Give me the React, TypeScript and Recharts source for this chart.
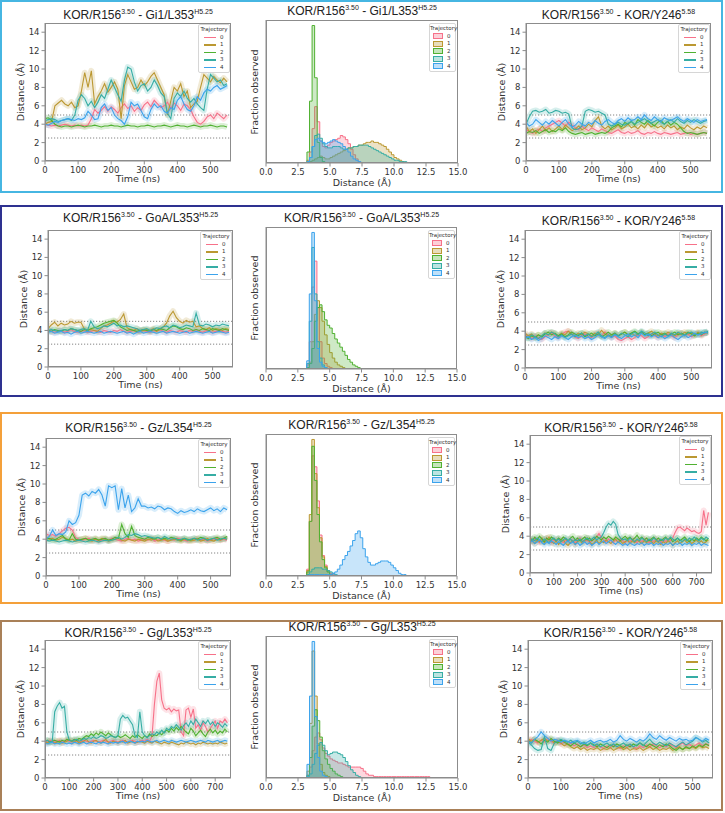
import React from "react";
import { LineChart, Line, AreaChart, Area, XAxis, YAxis, ReferenceLine } from "recharts";

// trajectory colours (husl, 5 colours)
const COLORS = ["#f77189", "#bb9832", "#50b131", "#36ada4", "#3ba3ec"];
const TRAJ = ["0", "1", "2", "3", "4"];

const TIME_550 = [
  0, 10, 20, 30, 40, 50, 60, 70, 80, 90, 100, 110, 120, 130, 140, 150, 160, 170, 180, 190,
  200, 210, 220, 230, 240, 250, 260, 270, 280, 290, 300, 310, 320, 330, 340, 350, 360, 370, 380, 390,
  400, 410, 420, 430, 440, 450, 460, 470, 480, 490, 500, 510, 520, 530, 540, 550,
];
const TIME_750 = [
  0, 10, 20, 30, 40, 50, 60, 70, 80, 90, 100, 110, 120, 130, 140, 150, 160, 170, 180, 190,
  200, 210, 220, 230, 240, 250, 260, 270, 280, 290, 300, 310, 320, 330, 340, 350, 360, 370, 380, 390,
  400, 410, 420, 430, 440, 450, 460, 470, 480, 490, 500, 510, 520, 530, 540, 550, 560, 570, 580, 590,
  600, 610, 620, 630, 640, 650, 660, 670, 680, 690, 700, 710, 720, 730, 740, 750,
];
const TICKS_550 = [0, 100, 200, 300, 400, 500];
const TICKS_750 = [0, 100, 200, 300, 400, 500, 600, 700];
const DIST_TICKS = [0, 2, 4, 6, 8, 10, 12, 14];
const HIST_TICKS = [0, 2.5, 5, 7.5, 10, 12.5, 15];
// left edges of the histogram bins (Å)
const BIN_EDGES = [
  2.8, 3.0, 3.2, 3.4, 3.6, 3.8, 4.0, 4.2, 4.4, 4.6, 4.8, 5.0, 5.2, 5.4, 5.6, 5.8, 6.0, 6.2, 6.4, 6.6,
  6.8, 7.0, 7.2, 7.4, 7.6, 7.8, 8.0, 8.2, 8.4, 8.6, 8.8, 9.0, 9.2, 9.4, 9.6, 9.8, 10.0, 10.2, 10.4, 10.6,
  10.8, 11.0, 11.2, 11.4, 11.6, 11.8, 12.0, 12.2, 12.4, 12.6, 12.8, 13.0,
];

// ---- row 1: Gi1 ----
const GI1_DIST = [
  [4.0,3.9,3.8,3.9,3.8,3.9,4.0,3.9,3.8,3.9, 3.8,3.9,3.8,3.9,4.6,5.6,5.2,5.5,5.9,5.4, 5.9,5.6,5.2,5.8,6.2,5.7,6.0,5.4,5.8,5.5, 6.1,6.4,5.9,6.6,6.2,5.8,6.0,6.4,5.7,6.3, 6.0,5.5,6.2,6.0,5.6,4.8,4.2,4.0,4.3,4.8, 5.0,4.6,5.2,4.9,4.6,5.0],
  [4.0,4.2,4.3,6.0,6.3,6.6,6.2,6.0,6.4,5.8, 6.0,7.6,9.6,8.0,9.8,6.2,7.0,7.6,8.4,7.5, 8.0,8.6,7.8,4.6,8.2,9.4,8.6,7.8,8.0,8.8, 8.2,8.6,9.2,9.6,8.8,8.0,7.2,5.0,6.5,8.0, 7.6,8.4,7.0,7.6,5.8,6.2,6.5,8.0,9.4,9.0, 8.6,9.2,8.8,8.5,9.0,8.6],
  [4.6,4.7,4.4,4.0,3.8,3.7,3.8,3.8,3.7,3.8, 3.9,3.8,3.7,3.8,3.8,3.9,3.8,3.7,3.8,3.8, 3.9,3.8,3.8,3.7,3.8,3.9,3.8,3.8,3.7,3.8, 3.8,3.9,3.8,3.7,3.8,3.8,3.9,3.8,3.7,3.8, 3.9,3.8,3.8,3.7,3.8,3.9,3.8,3.7,3.8,3.8, 3.9,3.8,3.7,3.8,3.8,3.7],
  [4.4,4.5,4.6,4.5,4.3,4.4,4.5,4.6,4.4,5.0, 6.6,7.2,6.8,6.0,6.5,5.8,6.4,7.2,6.8,7.8, 8.8,8.0,7.2,6.5,8.8,10.2,10.0,8.6,7.6,8.2, 8.4,7.6,8.0,8.8,8.2,7.4,7.0,5.2,4.6,6.8, 7.4,7.0,7.6,6.8,6.4,6.8,6.2,5.8,5.5,7.8, 9.4,9.0,8.6,8.8,8.2,8.4],
  [4.0,3.9,4.1,4.3,4.2,4.4,4.5,4.6,4.5,4.4, 4.6,4.5,4.7,5.4,5.0,4.5,4.6,5.8,6.2,5.5, 5.8,5.0,4.6,4.4,4.0,4.8,6.4,6.0,6.2,5.5, 4.8,4.6,5.6,6.2,5.8,6.0,5.4,5.2,5.8,5.6, 6.6,7.0,6.2,5.6,5.4,6.0,7.0,6.6,7.4,7.8, 7.6,8.0,8.2,7.8,8.0,8.2],
];
const GI1_HIST = [
  [0,0,2,8,25,41,30,16,12,11, 13,15,16,17,18,20,19,17,14,10, 6,3,1,0,0,0,0,0,0,0, 0,0,0,0,0,0,0,0,0,0, 0,0,0,0,0,0,0,0,0,0, 0,0],
  [0,0,0,1,2,3,4,5,4,3, 3,4,5,6,7,8,9,10,11,11, 12,12,13,13,14,15,15,16,15,15, 14,13,12,10,8,6,4,3,2,1, 0,0,0,0,0,0,0,0,0,0, 0,0],
  [0,0,8,45,100,62,15,4,1,0, 0,0,0,0,0,0,0,0,0,0, 0,0,0,0,0,0,0,0,0,0, 0,0,0,0,0,0,0,0,0,0, 0,0,0,0,0,0,0,0,0,0, 0,0],
  [0,0,1,4,12,20,21,18,14,12, 11,11,12,12,12,11,10,10,11,11, 12,12,13,13,13,13,12,11,10,9, 8,7,6,5,4,3,2,2,1,1, 1,0,0,0,0,0,0,0,0,0, 0,0],
  [0,0,1,4,12,17,18,16,15,14, 15,16,17,16,15,14,12,10,8,5, 3,2,1,0,0,0,0,0,0,0, 0,0,0,0,0,0,0,0,0,0, 0,0,0,0,0,0,0,0,0,0, 0,0],
];
const GI1_KOR = [
  [3.4,3.2,3.0,3.3,3.5,3.2,3.6,3.8,4.0,4.2, 4.4,4.1,3.8,4.2,3.9,3.6,3.4,3.8,3.5,3.3, 3.6,3.4,3.2,3.5,3.3,3.1,3.0,3.2,3.4,3.1, 3.0,3.2,3.0,3.1,3.3,3.0,2.9,3.1,3.0,3.2, 3.0,2.9,3.1,3.0,2.9,3.0,3.1,2.9,3.0,3.1, 2.9,3.0,2.9,3.0,3.1,3.0],
  [3.8,3.2,3.5,3.0,3.4,3.8,3.3,3.6,3.2,3.5, 3.8,3.4,3.9,3.6,3.3,3.5,3.8,3.4,3.6,4.0, 3.7,4.4,4.8,3.8,3.5,3.8,3.4,3.6,3.9,3.5, 3.7,4.0,3.6,3.8,3.5,3.9,3.6,4.1,3.7,3.9, 3.6,3.8,3.5,3.9,3.6,3.8,3.4,3.7,3.5,3.9, 3.6,3.4,3.7,3.5,3.8,3.6],
  [3.0,3.2,3.1,3.3,3.0,3.2,3.4,3.1,3.3,3.2, 3.5,3.3,3.6,3.2,3.0,2.9,3.0,3.1,2.9,3.0, 3.1,2.9,3.0,3.1,3.0,3.2,3.6,3.8,4.0,3.7, 4.2,4.0,4.3,3.9,4.5,4.2,4.0,4.4,4.1,3.8, 4.2,4.4,4.0,4.3,3.9,4.2,4.0,3.6,3.2,3.0, 3.1,3.0,2.9,3.0,3.1,3.0],
  [4.0,4.8,5.4,5.5,5.3,5.4,5.6,5.2,5.3,5.5, 5.4,5.2,5.3,5.1,3.6,3.4,3.5,3.8,5.4,5.6, 5.5,5.3,5.4,5.2,5.0,4.0,3.8,4.0,4.2,4.0, 3.9,4.1,4.3,4.0,4.2,4.4,4.6,4.3,4.1,4.3, 4.5,4.2,4.0,4.3,4.5,4.2,4.6,4.3,4.1,4.4, 4.2,4.5,4.3,4.1,4.3,4.4],
  [4.2,3.8,4.0,4.5,4.2,3.9,4.3,4.0,4.4,4.1, 3.8,4.2,4.5,4.0,3.7,3.9,4.3,4.0,3.8,4.2, 4.0,4.4,4.1,3.9,4.3,4.5,4.2,4.0,4.4,4.6, 4.3,4.7,4.4,4.5,4.8,4.5,5.0,4.6,4.4,4.8, 4.5,4.3,4.7,4.5,4.4,4.6,4.8,4.5,4.3,4.6, 4.4,4.2,4.5,4.3,4.4,4.5],
];

// ---- row 2: GoA ----
const GOA_DIST = [
  [4.0,3.9,3.8,3.9,4.0,3.8,3.9,4.1,3.9,3.8, 3.9,4.0,3.8,3.9,4.0,3.9,3.8,4.0,3.9,3.8, 4.0,3.9,4.1,3.9,3.8,3.9,4.0,3.8,3.9,4.0, 3.9,3.8,4.0,3.9,4.1,3.9,3.8,4.0,3.9,3.8, 4.0,3.9,3.8,4.0,3.9,4.1,3.9,3.8,4.0,3.9, 3.8,3.9,4.0,3.9,3.8,3.9],
  [4.2,4.6,4.9,4.5,4.8,4.6,4.7,5.0,4.8,4.9, 4.9,4.2,4.0,4.1,4.0,3.9,4.2,4.5,4.6,4.8, 5.0,4.9,5.2,5.8,4.3,4.1,4.0,4.2,3.9,4.0, 4.1,4.0,4.2,3.9,4.1,4.4,4.8,5.6,6.1,5.4, 5.0,4.8,5.1,4.9,5.0,4.4,4.5,4.2,4.1,4.3, 4.0,4.2,4.1,4.0,4.2,4.1],
  [4.0,3.9,4.1,4.0,3.9,4.1,4.0,4.2,4.1,4.0, 3.9,4.1,4.0,4.2,4.3,4.4,4.6,4.8,4.9,5.0, 5.1,4.8,4.4,4.2,4.0,4.1,4.0,3.9,4.0,4.1, 4.0,3.9,4.1,4.0,4.2,4.1,4.0,4.3,4.5,4.4, 4.2,4.1,4.3,4.2,4.0,4.1,4.0,4.2,4.1,4.0, 4.2,4.1,4.0,4.2,4.1,4.0],
  [4.0,4.1,4.0,3.9,4.0,4.1,4.0,4.2,4.1,4.0, 4.1,4.2,4.0,5.0,4.4,4.2,4.3,4.5,4.4,4.6, 4.8,4.5,4.6,4.4,4.5,4.4,4.3,4.2,4.0,4.1, 4.2,4.0,4.1,4.3,4.2,4.4,4.5,4.3,4.6,4.5, 4.3,4.4,4.6,4.5,4.4,5.9,4.6,4.5,4.7,4.6, 4.4,4.6,4.5,4.7,4.6,4.5],
  [3.8,3.9,3.7,3.8,3.9,3.7,3.8,3.6,3.8,3.9, 3.7,3.8,3.9,3.8,3.7,3.8,3.9,3.7,3.8,3.9, 3.8,3.7,3.8,3.9,3.7,3.8,3.6,3.8,3.9,3.7, 3.8,3.9,3.8,3.7,3.8,3.9,3.7,3.8,3.9,3.8, 3.7,3.8,3.9,3.7,3.8,3.9,3.8,3.7,3.8,3.9, 3.7,3.8,3.9,3.8,3.7,3.8],
];
const GOA_HIST = [
  [0,0,3,20,60,79,45,20,8,4, 2,1,0,0,0,0,0,0,0,0, 0,0,0,0,0,0,0,0,0,0, 0,0,0,0,0,0,0,0,0,0, 0,0,0,0,0,0,0,0,0,0, 0,0],
  [0,0,1,5,20,40,50,45,35,25, 18,12,8,5,3,2,1,0,0,0, 0,0,0,0,0,0,0,0,0,0, 0,0,0,0,0,0,0,0,0,0, 0,0,0,0,0,0,0,0,0,0, 0,0],
  [0,0,1,4,15,35,45,47,42,36, 32,30,26,22,19,16,13,10,7,5, 3,2,1,0,0,0,0,0,0,0, 0,0,0,0,0,0,0,0,0,0, 0,0,0,0,0,0,0,0,0,0, 0,0],
  [0,0,4,35,89,55,20,8,3,1, 0,0,0,0,0,0,0,0,0,0, 0,0,0,0,0,0,0,0,0,0, 0,0,0,0,0,0,0,0,0,0, 0,0,0,0,0,0,0,0,0,0, 0,0],
  [0,0,6,55,100,50,15,5,2,1, 0,0,0,0,0,0,0,0,0,0, 0,0,0,0,0,0,0,0,0,0, 0,0,0,0,0,0,0,0,0,0, 0,0,0,0,0,0,0,0,0,0, 0,0],
];
const GOA_KOR = [
  [3.6,3.4,3.2,3.5,3.3,3.1,3.4,3.6,3.8,3.5, 3.3,3.6,3.9,4.0,3.7,3.4,3.2,3.5,3.7,3.4, 3.3,3.6,3.8,3.5,3.9,3.6,3.3,3.5,3.1,3.0, 3.2,3.4,3.1,3.3,3.6,3.5,3.2,3.4,3.7,3.5, 3.3,3.6,3.4,3.7,3.5,3.3,3.6,3.8,3.5,3.7, 3.4,3.6,3.8,3.5,3.7,3.9],
  [3.8,3.5,3.7,3.3,3.6,3.4,3.8,3.6,3.9,3.7, 3.5,3.8,3.6,4.0,3.7,3.5,3.8,3.6,3.9,3.7, 3.5,3.8,3.6,4.1,3.7,3.5,3.6,3.8,3.5,3.7, 3.9,3.6,3.8,3.5,3.7,3.9,3.6,3.8,4.0,3.7, 3.5,3.8,3.6,3.9,3.7,3.5,3.8,3.6,3.9,3.7, 3.8,3.6,3.9,3.7,3.8,3.9],
  [3.4,3.2,3.5,3.3,3.6,3.4,3.7,3.9,3.6,3.8, 3.5,3.7,3.4,3.6,3.9,3.7,3.5,3.8,3.4,3.6, 3.8,3.5,3.7,3.4,3.6,3.9,3.6,3.8,3.5,3.7, 3.9,3.6,3.8,4.0,3.7,3.9,3.6,3.8,3.5,3.7, 3.9,3.6,3.8,3.5,3.7,3.9,3.6,3.8,3.6,3.9, 3.7,3.5,3.8,3.6,3.9,3.8],
  [3.5,3.3,3.6,3.4,3.2,3.5,3.8,3.6,3.9,3.7, 3.4,3.6,3.3,3.5,3.7,3.4,3.6,3.8,3.5,3.7, 3.4,3.6,3.9,3.5,3.3,3.6,3.4,3.7,3.5,3.8, 3.6,3.4,3.7,3.9,3.6,4.0,3.8,3.5,3.7,3.9, 3.6,3.4,3.7,3.5,3.8,3.6,3.9,3.7,3.5,3.8, 3.9,3.7,3.6,3.9,3.8,4.0],
  [3.2,3.4,3.1,3.3,3.0,3.2,3.5,3.3,3.1,3.4, 3.2,3.5,3.3,3.1,3.4,3.6,3.3,3.5,3.2,3.4, 3.1,3.3,3.6,3.4,3.2,3.5,3.3,3.6,3.4,3.2, 3.5,3.7,3.4,3.6,3.3,3.8,3.5,3.7,3.4,3.6, 3.3,3.5,3.2,3.4,3.6,3.3,3.1,3.4,3.6,3.3, 3.5,3.8,3.6,3.7,3.9,3.8],
];

// ---- row 3: Gz ----
const GZ_DIST = [
  [4.6,4.4,4.5,4.3,4.6,4.9,5.2,5.3,5.0,4.2, 4.0,3.9,4.0,4.1,3.9,4.0,3.8,3.9,4.0,3.9, 4.1,4.0,3.9,3.8,4.0,4.1,3.9,4.0,3.8,3.9, 4.0,3.9,4.1,3.8,3.9,4.0,3.9,3.8,4.0,3.9, 4.1,4.0,3.9,3.8,4.0,3.9,4.1,3.9,4.0,3.8, 3.9,4.0,4.1,3.9,4.0,3.9],
  [4.2,4.0,4.1,3.9,4.0,4.2,4.1,3.9,4.0,3.8, 3.9,4.0,4.1,3.9,3.8,4.0,3.9,4.1,4.0,3.8, 3.9,4.0,4.1,3.9,3.8,4.0,3.9,3.8,4.0,3.9, 3.8,4.0,3.9,4.1,3.8,3.9,4.0,3.8,3.9,4.0, 3.9,3.8,4.0,3.9,3.8,3.9,4.0,3.8,3.9,4.1, 3.9,3.8,4.0,3.9,4.1,4.0],
  [4.0,4.1,3.9,4.0,4.2,4.4,4.0,3.9,4.6,4.0, 3.9,4.0,4.1,3.9,4.0,4.1,3.9,4.0,4.1,3.9, 4.0,4.2,4.1,5.6,4.6,4.2,5.4,4.4,4.2,4.1, 4.0,4.2,4.1,4.0,4.2,4.0,4.1,4.0,4.2,4.1, 4.0,3.9,4.1,4.0,3.9,4.1,4.0,4.2,4.1,3.9, 4.0,4.1,4.2,4.0,4.1,4.3],
  [3.9,3.8,3.9,3.8,3.7,3.8,3.9,3.8,3.7,3.8, 3.9,3.8,3.7,3.8,3.9,3.8,3.7,3.8,3.9,3.8, 3.9,4.0,4.2,4.0,4.2,4.5,4.4,4.6,4.5,4.3, 4.4,4.3,4.2,4.1,4.2,4.0,4.3,4.1,4.0,4.1, 3.9,4.0,4.1,3.9,4.0,4.1,3.9,4.0,4.1,3.9, 4.0,4.1,3.9,4.0,4.1,4.0],
  [4.0,4.3,5.0,4.4,4.6,4.5,4.8,6.0,5.6,5.8, 6.6,8.8,9.0,8.7,9.2,9.0,9.4,8.8,7.6,9.8, 9.6,9.8,7.2,9.5,7.4,8.8,7.0,7.4,8.4,7.6, 7.6,7.4,7.5,7.3,7.6,7.5,7.2,7.4,7.3,7.0, 6.8,7.1,6.9,7.0,7.2,7.0,7.3,7.1,7.0,7.2, 7.4,7.1,7.3,7.0,7.4,7.2],
];
const GZ_HIST = [
  [0,0,5,40,88,80,55,30,15,8, 4,2,1,0,0,0,0,0,0,0, 0,0,0,0,0,0,0,0,0,0, 0,0,0,0,0,0,0,0,0,0, 0,0,0,0,0,0,0,0,0,0, 0,0],
  [0,0,4,45,100,75,50,28,14,7, 3,1,0,0,0,0,0,0,0,0, 0,0,0,0,0,0,0,0,0,0, 0,0,0,0,0,0,0,0,0,0, 0,0,0,0,0,0,0,0,0,0, 0,0],
  [0,0,3,40,95,70,45,25,12,6, 3,1,0,0,0,0,0,0,0,0, 0,0,0,0,0,0,0,0,0,0, 0,0,0,0,0,0,0,0,0,0, 0,0,0,0,0,0,0,0,0,0, 0,0],
  [0,0,1,3,5,6,6,6,5,5, 4,3,2,1,0,0,0,0,0,0, 0,0,0,0,0,0,0,0,0,0, 0,0,0,0,0,0,0,0,0,0, 0,0,0,0,0,0,0,0,0,0, 0,0],
  [0,0,0,1,1,1,1,1,1,1, 1,1,2,3,5,8,12,15,18,22, 26,31,33,28,20,14,10,8,8,9, 10,11,11,11,10,8,6,4,2,1, 1,0,0,0,0,0,0,0,0,0, 0,0],
];
const GZ_KOR = [
  [3.6,3.4,3.7,3.5,3.3,3.6,3.4,3.8,3.5,3.3, 3.6,3.4,3.7,3.5,3.3,3.6,3.4,3.7,3.5,3.3, 3.6,3.8,3.5,3.4,3.6,3.3,3.5,3.7,3.9,4.3, 3.8,3.6,3.4,3.7,3.5,3.3,3.6,3.4,3.7,3.5, 3.3,3.6,3.4,3.7,3.5,3.3,3.6,3.4,3.7,3.5, 3.3,3.6,3.4,3.7,3.5,3.3,3.6,3.4,3.7,3.5, 3.8,4.4,4.9,5.0,4.8,4.6,4.9,4.7,4.5,4.6, 4.4,4.3,4.5,6.8,5.2,6.6],
  [3.9,3.5,3.2,3.6,3.4,3.8,3.3,3.5,3.9,3.4, 3.2,3.5,3.1,3.4,3.6,3.2,3.0,3.3,3.5,3.1, 3.4,3.6,3.2,3.5,3.8,3.4,3.1,3.3,3.6,3.2, 3.5,3.3,3.6,3.4,3.2,3.5,3.7,3.3,3.5,3.2, 3.4,3.6,3.2,3.5,3.3,3.6,3.4,3.2,3.5,3.3, 3.6,3.4,3.2,3.5,3.3,3.1,3.4,3.2,3.5,3.3, 3.0,3.3,3.5,3.2,3.4,3.6,3.3,3.5,3.2,3.4, 3.6,3.3,3.5,3.2,3.4,3.6],
  [3.8,3.5,3.9,3.6,4.0,3.7,3.4,3.8,3.6,3.9, 3.7,3.5,3.8,3.6,3.9,3.7,3.5,3.8,4.0,3.6, 3.8,3.5,3.7,3.9,3.6,3.8,3.5,3.7,4.0,3.8, 3.6,3.9,3.7,4.0,3.8,3.6,3.9,3.7,3.5,3.8, 4.0,3.7,3.9,3.6,3.8,4.1,3.7,3.9,3.6,3.8, 3.5,3.7,3.9,3.6,3.8,3.5,3.7,3.9,3.6,3.8, 3.4,3.6,3.8,3.5,3.7,3.9,3.6,3.4,3.7,3.5, 3.8,3.6,3.9,3.7,3.5,3.8],
  [3.4,3.7,3.5,3.8,3.6,3.4,3.7,3.5,3.3,3.6, 3.8,3.5,3.7,3.4,3.6,3.8,3.5,3.7,3.4,3.6, 3.5,3.7,3.4,3.6,3.8,3.5,3.7,3.9,3.6,3.8, 3.9,4.4,5.0,5.4,5.2,5.6,5.3,4.2,3.8,3.6, 3.7,3.5,3.8,3.6,3.4,3.7,3.5,3.8,3.6,3.4, 3.7,3.5,3.8,3.6,3.4,3.7,3.5,3.8,3.6,3.9, 3.7,3.5,3.8,3.6,3.4,3.7,3.5,3.8,3.6,3.9, 3.7,3.5,3.8,3.6,3.9,3.7],
  [3.3,3.5,3.2,3.4,3.6,3.3,3.1,3.4,3.2,3.5, 3.3,3.1,3.4,3.2,3.0,3.3,3.5,3.2,3.4,3.1, 3.3,3.0,3.2,3.4,3.1,3.3,3.0,3.2,3.4,3.1, 3.3,3.5,3.2,3.4,3.6,3.3,3.1,3.4,3.2,3.0, 3.2,3.0,3.3,3.1,3.0,3.2,3.1,3.3,3.0,3.2, 3.1,3.3,3.0,3.2,3.1,3.3,3.0,3.2,3.1,3.3, 3.0,3.2,3.1,3.3,3.0,3.2,3.1,3.3,3.0,3.2, 3.1,3.3,3.0,3.2,3.1,3.0],
];

// ---- row 4: Gg ----
const GG_DIST = [
  [4.0,3.9,4.1,4.0,3.9,4.0,4.1,3.9,4.0,4.1, 4.0,3.9,4.1,4.0,3.9,4.0,4.1,4.0,3.9,4.0, 4.1,4.0,3.9,4.0,4.1,4.0,3.9,4.0,4.1,4.0, 3.9,4.0,4.1,4.0,3.9,4.0,4.1,4.0,3.9,4.0, 4.1,4.0,4.2,4.0,4.5,8.0,10.5,11.4,8.5,7.6, 7.4,7.6,7.2,7.5,7.3,7.4,5.0,4.6,7.4,7.6, 6.6,7.5,5.4,5.8,5.2,6.0,5.6,5.0,5.4,5.8, 6.2,5.4,6.2,6.0,6.4,6.0],
  [3.9,3.8,4.0,3.9,3.8,3.9,4.0,3.8,3.9,4.0, 4.2,4.0,3.9,4.1,3.8,3.9,4.0,4.2,3.9,3.8, 4.0,4.1,3.9,3.8,4.0,4.2,3.9,3.8,4.0,3.9, 3.8,4.0,3.9,4.1,3.8,3.9,4.0,3.8,3.9,4.0, 3.9,3.8,4.0,3.9,3.8,4.0,3.9,3.8,3.7,3.9, 3.8,3.7,3.9,3.8,3.7,3.6,3.8,3.7,3.9,3.8, 3.7,3.8,3.6,3.8,3.7,3.9,3.8,3.7,3.8,3.7, 3.8,3.7,3.9,3.8,3.7,3.8],
  [4.0,4.1,3.9,4.0,4.1,4.0,3.9,4.1,4.0,4.2, 4.1,4.0,4.2,4.1,4.3,4.2,4.4,4.6,4.5,4.8, 4.6,4.9,4.7,5.0,4.8,4.6,4.9,4.7,4.5,4.4, 4.6,4.4,4.5,4.7,4.5,4.3,4.6,4.4,4.7,4.5, 4.3,4.6,4.4,4.8,4.5,4.7,4.6,4.9,4.7,5.0, 5.2,5.0,5.4,5.1,5.5,5.2,5.6,5.3,5.0,4.8, 5.4,5.1,4.6,4.9,5.2,4.8,4.5,5.0,5.3,4.9, 5.2,4.8,5.1,4.9,5.3,5.0],
  [4.0,4.1,3.9,4.0,7.2,7.8,8.2,7.6,7.8,5.0, 4.1,4.0,4.1,4.2,4.0,4.1,4.3,4.2,4.4,4.3, 4.5,4.3,4.4,4.6,4.5,4.3,4.4,4.6,4.5,4.4, 4.6,6.4,6.8,6.5,6.6,6.2,5.8,4.6,4.4,7.2, 5.0,4.6,4.4,4.6,4.8,4.7,5.0,4.8,5.2,4.9, 5.4,5.2,5.6,5.4,5.8,5.5,5.2,5.7,6.0,5.6, 6.2,5.8,6.4,6.0,5.6,6.2,5.9,6.3,5.8,6.1, 5.6,6.0,5.8,5.5,5.9,5.6],
  [3.8,3.7,3.8,3.9,3.7,3.8,3.7,3.9,3.8,3.7, 3.8,3.7,3.9,3.8,3.7,3.8,3.9,3.7,3.8,3.9, 3.8,3.7,3.9,3.8,3.9,3.8,3.7,3.9,3.8,3.9, 3.8,3.9,4.0,3.8,3.9,4.0,3.9,3.8,4.0,3.9, 4.0,3.9,4.1,4.0,3.9,4.0,4.1,3.9,4.0,4.1, 4.0,3.9,4.1,4.0,3.9,4.0,4.1,4.0,3.9,4.0, 4.1,4.0,3.9,4.0,4.1,4.0,3.9,4.1,4.0,3.9, 4.0,4.1,3.9,4.0,4.1,4.0],
];
const GG_HIST = [
  [0,0,2,8,20,30,33,28,22,18, 16,14,13,12,11,11,10,9,8,8, 8,8,8,7,5,3,2,2,1,1, 1,1,1,1,1,1,1,1,1,1, 1,1,1,1,1,1,1,1,1,1, 0,0],
  [0,0,5,40,93,60,25,10,4,2, 1,0,0,0,0,0,0,0,0,0, 0,0,0,0,0,0,0,0,0,0, 0,0,0,0,0,0,0,0,0,0, 0,0,0,0,0,0,0,0,0,0, 0,0],
  [0,0,2,15,38,50,42,30,20,14, 10,7,5,3,2,1,0,0,0,0, 0,0,0,0,0,0,0,0,0,0, 0,0,0,0,0,0,0,0,0,0, 0,0,0,0,0,0,0,0,0,0, 0,0],
  [0,0,1,3,10,18,24,26,24,20, 17,18,19,19,18,17,15,12,9,6, 4,2,1,0,0,0,0,0,0,0, 0,0,0,0,0,0,0,0,0,0, 0,0,0,0,0,0,0,0,0,0, 0,0],
  [0,0,10,60,100,45,15,5,2,1, 0,0,0,0,0,0,0,0,0,0, 0,0,0,0,0,0,0,0,0,0, 0,0,0,0,0,0,0,0,0,0, 0,0,0,0,0,0,0,0,0,0, 0,0],
];
const GG_KOR = [
  [3.9,4.2,4.0,3.8,4.1,3.9,4.3,4.0,3.8,4.1, 3.7,3.9,3.6,3.8,3.5,3.7,3.4,3.6,3.3,3.5, 3.3,3.6,3.4,3.2,3.5,3.3,3.6,3.4,3.2,3.5, 3.3,3.6,3.4,3.2,3.5,3.3,3.6,3.4,3.7,3.5, 3.3,3.6,3.4,3.7,3.5,3.3,3.6,3.8,3.5,3.7, 3.4,3.6,3.8,3.5,3.7,3.6],
  [4.3,4.0,4.2,3.9,4.1,4.3,4.0,4.2,3.8,4.0, 3.8,3.5,3.7,3.4,3.2,3.4,3.1,3.3,3.0,3.2, 3.1,3.3,3.0,3.2,3.1,3.3,3.0,3.2,3.4,3.1, 3.3,3.0,3.2,3.1,3.3,3.0,3.2,3.4,3.1,3.3, 3.0,3.2,3.1,3.3,3.0,3.2,3.4,3.1,3.3,3.2, 3.4,3.2,3.5,3.3,3.4,3.2],
  [4.1,3.8,4.2,4.0,3.7,4.1,3.9,4.3,4.0,3.8, 4.1,3.9,3.7,3.5,3.8,3.6,3.4,3.7,3.5,3.8, 3.6,3.4,3.7,3.5,3.3,3.6,3.4,3.7,3.5,3.3, 3.6,3.4,3.7,3.5,3.8,3.6,3.4,3.7,3.5,3.3, 3.6,3.4,3.7,3.5,3.2,3.0,3.3,3.1,3.4,3.2, 3.5,3.3,3.6,3.4,3.7,3.5],
  [3.9,3.6,3.2,3.0,3.1,4.5,3.2,3.0,3.8,4.0, 4.2,4.0,3.9,4.1,3.8,4.0,3.7,3.9,3.6,3.8, 3.5,3.7,3.4,3.6,3.8,3.5,3.7,3.4,3.6,3.8, 3.5,3.7,3.4,3.6,3.8,3.5,3.9,4.2,3.8,3.6, 3.9,3.7,3.5,3.8,3.6,3.4,3.7,3.9,3.6,3.8, 4.0,4.4,4.2,3.9,4.1,3.8],
  [4.0,3.8,4.2,4.5,5.0,4.6,4.3,4.0,4.2,4.1, 3.9,4.1,4.0,3.8,4.0,4.1,3.9,3.7,3.9,4.1, 3.8,4.0,4.1,3.9,4.0,4.2,3.9,4.1,4.6,4.2, 4.0,4.3,4.1,3.9,4.2,4.0,4.3,4.8,4.4,4.2, 4.6,4.3,4.1,4.4,4.2,4.0,4.3,4.1,4.2,4.0, 4.1,4.4,4.2,4.0,4.3,4.1],
];

const SPINE = "#8c8c8c";
const TICK_FONT = { fontSize: 8.5, fill: "#333", fontFamily: "DejaVu Sans" };
const LABEL_FONT = "DejaVu Sans";

type Box = { x0: number; x1: number; top: number; bottom: number };

function PanelTitle({ cx, cy, partner }: { cx: number; cy: number; partner: [string, string] }) {
  return (
    <div
      style={{
        position: "absolute", left: cx - 120, width: 240, top: cy - 7, textAlign: "center",
        fontFamily: "Liberation Sans, Arial, sans-serif", fontSize: 12, lineHeight: "14px",
        color: "#222", whiteSpace: "nowrap",
      }}
    >
      KOR/R156<span style={{ fontSize: 7, position: "relative", top: -5 }}>3.50</span> - {partner[0]}
      <span style={{ fontSize: 7, position: "relative", top: -5 }}>{partner[1]}</span>
    </div>
  );
}

function TrajLegend({ right, top, hist }: { right: number; top: number; hist?: boolean }) {
  const w = hist ? 27 : 32;
  return (
    <div
      style={{
        position: "absolute", left: right - w, top, width: w - 2, paddingTop: 1, paddingBottom: 1,
        border: "1px solid #d6d6d6", borderRadius: 2, background: "rgba(255,255,255,0.85)",
        fontFamily: LABEL_FONT, fontSize: 5.5, lineHeight: "7.5px", color: "#333",
      }}
    >
      <div style={{ textAlign: "center" }}>Trajectory</div>
      {TRAJ.map((name, k) => (
        <div key={name} style={{ display: "flex", alignItems: "center", paddingLeft: hist ? 3 : 5, height: 7.5 }}>
          {hist ? (
            <span style={{ width: 8, height: 4, border: `1px solid ${COLORS[k]}`, background: COLORS[k] + "55" }} />
          ) : (
            <span style={{ width: 12, height: 1.5, background: COLORS[k] }} />
          )}
          <span style={{ marginLeft: 4 }}>{name}</span>
        </div>
      ))}
    </div>
  );
}

function Frame({ box }: { box: Box }) {
  return (
    <div
      style={{
        position: "absolute", left: box.x0, top: box.top, width: box.x1 - box.x0,
        height: box.bottom - box.top, border: `1px solid ${SPINE}`, boxSizing: "border-box",
        pointerEvents: "none",
      }}
    />
  );
}

function YLabel({ x, y, text }: { x: number; y: number; text: string }) {
  return (
    <div
      style={{
        position: "absolute", left: x - 60, top: y - 6, width: 120, textAlign: "center",
        transform: "rotate(-90deg)", fontFamily: LABEL_FONT, fontSize: 9.5, lineHeight: "12px", color: "#333",
      }}
    >
      {text}
    </div>
  );
}

function XLabel({ x, y, text }: { x: number; y: number; text: string }) {
  return (
    <div
      style={{
        position: "absolute", left: x - 60, top: y - 6, width: 120, textAlign: "center",
        fontFamily: LABEL_FONT, fontSize: 9.5, lineHeight: "12px", color: "#333",
      }}
    >
      {text}
    </div>
  );
}

const AXW = 40;
const MT = 4;
const MR = 6;
const HMR = 14;
const XH = 22;

function TimePanel({
  box, times, series, tMax, ticks, partner, titleY,
}: {
  box: Box; times: number[]; series: number[][]; tMax: number; ticks: number[]; partner: [string, string]; titleY: number;
}) {
  const data = times.map((t, i) => {
    const row: Record<string, number> = { t };
    series.forEach((s, k) => {
      row["s" + k] = s[i];
    });
    return row;
  });
  const w = AXW + (box.x1 - box.x0) + MR;
  const h = MT + (box.bottom - box.top) + XH;
  const cx = (box.x0 + box.x1) / 2;
  return (
    <>
      <div style={{ position: "absolute", left: box.x0 - AXW, top: box.top - MT }}>
        <LineChart width={w} height={h} data={data} margin={{ top: MT, right: MR, left: 0, bottom: 0 }}>
          <XAxis
            type="number" dataKey="t" domain={[0, tMax]} ticks={ticks} allowDataOverflow height={XH}
            tick={TICK_FONT} tickSize={3.5} tickLine={{ stroke: SPINE }} axisLine={{ stroke: SPINE }} interval={0}
          />
          <YAxis
            type="number" domain={[0, 15]} ticks={DIST_TICKS} allowDataOverflow width={AXW}
            tick={TICK_FONT} tickSize={3.5} tickLine={{ stroke: SPINE }} axisLine={{ stroke: SPINE }} interval={0}
          />
          <ReferenceLine y={5} stroke="#777" strokeWidth={0.9} strokeDasharray="1.2 1.8" />
          <ReferenceLine y={2.5} stroke="#777" strokeWidth={0.9} strokeDasharray="1.2 1.8" />
          {series.map((_, k) => (
            <Line
              key={"band" + k} dataKey={"s" + k} type="linear" stroke={COLORS[k]} strokeWidth={6}
              strokeOpacity={0.2} strokeLinejoin="round" dot={false} activeDot={false} isAnimationActive={false}
            />
          ))}
          {series.map((_, k) => (
            <Line
              key={"line" + k} dataKey={"s" + k} type="linear" stroke={COLORS[k]} strokeWidth={1.1}
              dot={false} activeDot={false} isAnimationActive={false}
            />
          ))}
        </LineChart>
      </div>
      <Frame box={box} />
      <PanelTitle cx={cx} cy={titleY} partner={partner} />
      <YLabel x={box.x0 - 24} y={(box.top + box.bottom) / 2} text="Distance (Å)" />
      <XLabel x={cx} y={box.bottom + 18} text="Time (ns)" />
      <TrajLegend right={box.x1 - 1} top={box.top + 1} />
    </>
  );
}

const HAXW = 14;

function HistPanel({
  box, series, partner, titleY,
}: {
  box: Box; series: number[][]; partner: [string, string]; titleY: number;
}) {
  const data = BIN_EDGES.map((x, i) => {
    const row: Record<string, number> = { x };
    series.forEach((s, k) => {
      row["s" + k] = s[i];
    });
    return row;
  });
  const w = HAXW + (box.x1 - box.x0) + HMR;
  const h = MT + (box.bottom - box.top) + XH;
  const cx = (box.x0 + box.x1) / 2;
  return (
    <>
      <div style={{ position: "absolute", left: box.x0 - HAXW, top: box.top - MT }}>
        <AreaChart width={w} height={h} data={data} margin={{ top: MT, right: HMR, left: 0, bottom: 0 }}>
          <XAxis
            type="number" dataKey="x" domain={[0, 15]} ticks={HIST_TICKS} allowDataOverflow height={XH}
            tickFormatter={(v: number) => v.toFixed(1)} interval={0}
            tick={TICK_FONT} tickSize={3.5} tickLine={{ stroke: SPINE }} axisLine={{ stroke: SPINE }}
          />
          <YAxis type="number" domain={[0, 104]} allowDataOverflow width={HAXW} tick={false} tickLine={false} axisLine={{ stroke: SPINE }} />
          {series.map((_, k) => (
            <Area
              key={"h" + k} dataKey={"s" + k} type="stepAfter" stroke={COLORS[k]} strokeWidth={1}
              fill={COLORS[k]} fillOpacity={0.28} dot={false} activeDot={false} isAnimationActive={false}
            />
          ))}
        </AreaChart>
      </div>
      <Frame box={box} />
      <PanelTitle cx={cx} cy={titleY} partner={partner} />
      <YLabel x={box.x0 - 11} y={(box.top + box.bottom) / 2} text="Fraction observed" />
      <XLabel x={cx} y={box.bottom + 20} text="Distance (Å)" />
      <TrajLegend right={box.x1 - 2} top={box.top + 3} hist />
    </>
  );
}

function RowBox({ top, bottom, color }: { top: number; bottom: number; color: string }) {
  return (
    <div
      style={{
        position: "absolute", left: 0, top, width: 723, height: bottom - top,
        border: `2px solid ${color}`, boxSizing: "border-box",
      }}
    />
  );
}

const KOR_Y246: [string, string] = ["KOR/Y246", "5.58"];

export default function App() {
  return (
    <div style={{ position: "absolute", left: 0, top: 0, width: 725, height: 813, background: "#fff", overflow: "hidden" }}>
      <RowBox top={0} bottom={193} color="#46b6e2" />
      <RowBox top={205} bottom={397} color="#2e3190" />
      <RowBox top={412} bottom={604} color="#f4a03a" />
      <RowBox top={620} bottom={811} color="#a98058" />

      <TimePanel box={{ x0: 45, x1: 231, top: 23, bottom: 161 }} times={TIME_550} series={GI1_DIST} tMax={562} ticks={TICKS_550} partner={["Gi1/L353", "H5.25"]} titleY={15} />
      <HistPanel box={{ x0: 266, x1: 458, top: 20, bottom: 163 }} series={GI1_HIST} partner={["Gi1/L353", "H5.25"]} titleY={11} />
      <TimePanel box={{ x0: 526, x1: 711, top: 23, bottom: 161 }} times={TIME_550} series={GI1_KOR} tMax={562} ticks={TICKS_550} partner={KOR_Y246} titleY={15} />

      <TimePanel box={{ x0: 48, x1: 233, top: 230, bottom: 367 }} times={TIME_550} series={GOA_DIST} tMax={562} ticks={TICKS_550} partner={["GoA/L353", "H5.25"]} titleY={218} />
      <HistPanel box={{ x0: 266, x1: 457, top: 227, bottom: 369 }} series={GOA_HIST} partner={["GoA/L353", "H5.25"]} titleY={218} />
      <TimePanel box={{ x0: 525, x1: 712, top: 230, bottom: 368 }} times={TIME_550} series={GOA_KOR} tMax={562} ticks={TICKS_550} partner={KOR_Y246} titleY={221} />

      <TimePanel box={{ x0: 46, x1: 231, top: 438, bottom: 576 }} times={TIME_550} series={GZ_DIST} tMax={562} ticks={TICKS_550} partner={["Gz/L354", "H5.25"]} titleY={428} />
      <HistPanel box={{ x0: 266, x1: 457, top: 434, bottom: 576 }} series={GZ_HIST} partner={["Gz/L354", "H5.25"]} titleY={425} />
      <TimePanel box={{ x0: 530, x1: 712, top: 435, bottom: 573 }} times={TIME_750} series={GZ_KOR} tMax={765} ticks={TICKS_750} partner={KOR_Y246} titleY={428} />

      <TimePanel box={{ x0: 45, x1: 231, top: 640, bottom: 778 }} times={TIME_750} series={GG_DIST} tMax={765} ticks={TICKS_750} partner={["Gg/L353", "H5.25"]} titleY={633} />
      <HistPanel box={{ x0: 266, x1: 458, top: 636, bottom: 778 }} series={GG_HIST} partner={["Gg/L353", "H5.25"]} titleY={627} />
      <TimePanel box={{ x0: 528, x1: 713, top: 640, bottom: 778 }} times={TIME_550} series={GG_KOR} tMax={562} ticks={TICKS_550} partner={KOR_Y246} titleY={633} />
    </div>
  );
}
